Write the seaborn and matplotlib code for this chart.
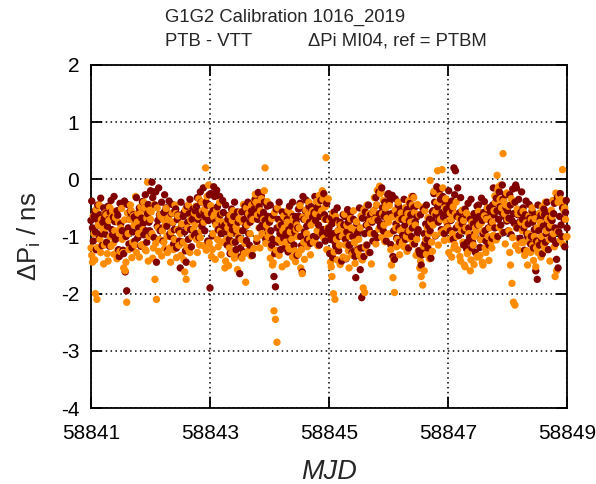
import numpy as np
import pandas as pd
import matplotlib
matplotlib.use("Agg")
import matplotlib.pyplot as plt
import seaborn as sns

# ---- data (quarter-day rows, 0.025 d step) ----
t_start = 58841.0
t_step = 0.025
t_offset2 = 0.0125   # second set of samples, half a step later

vtt_a = [  # dark red series, samples 1
    -0.72, -0.85, -0.65, -0.92, -0.70, -0.80, -0.62, -0.95, -0.75, -0.68,
    -0.60, -0.82, -0.70, -0.58, -0.88, -0.66, -0.74, -1.00, -0.63, -1.35,
    -0.78, -0.90, -1.30, -1.62, -1.95, -0.85, -0.70, -0.60, -0.92, -0.66,
    -0.70, -0.62, -0.85, -0.55, -0.68, -0.78, -0.50, -0.90, -0.60, -0.75,
    -0.20, -0.05, -0.22, -0.45, -1.45, -0.72, -0.62, -0.66, -0.85, -0.58,
    -0.55, -0.82, -0.68, -0.95, -0.60, -0.76, -0.88, -0.52, -0.70, -0.90,
    -1.55, -0.80, -0.65, -0.92, -1.45, -0.75, -0.60, -0.88, -0.70, -0.55,
    -0.55, -0.48, -0.70, -0.62, -0.40, -0.75, -0.58, -0.66, -0.45, -0.72,
    -1.90, -0.60, -0.55, -0.30, -0.22, -0.48, -0.70, -0.62, -0.80, -0.58,
    -0.80, -0.92, -0.70, -1.05, -0.78, -0.88, -0.65, -1.10, -0.95, -0.75,
    -1.65, -1.35, -0.90, -0.70, -0.82, -0.60, -0.95, -0.75, -0.55, -0.68,
    -0.40, -0.55, -0.70, -0.48, -0.62, -0.80, -0.58, -0.72, -0.85, -0.65,
    -0.75, -0.90, -1.05, -1.70, -1.88, -0.85, -0.70, -0.95, -0.80, -0.68,
    -0.78, -0.95, -0.70, -0.88, -1.00, -0.82, -0.65, -0.92, -0.75, -0.85,
    -0.65, -1.00, -1.62, -0.70, -0.55, -0.82, -0.60, -0.75, -0.48, -0.66,
    -0.58, -0.72, -0.50, -0.80, -0.65, -0.55, -0.88, -0.62, -0.70, -0.95,
    -0.85, -1.05, -0.78, -0.95, -1.10, -0.72, -0.90, -1.00, -0.82, -0.98,
    -0.80, -1.05, -0.92, -0.75, -1.15, -0.88, -1.00, -1.25, -1.72, -0.95,
    -0.90, -1.58, -2.07, -1.20, -0.95, -0.80, -0.70, -0.88, -0.62, -0.75,
    -0.55, -0.68, -0.45, -0.72, -0.60, -0.78, -0.50, -0.65, -0.58, -0.70,
    -0.25, -0.32, -0.60, -1.35, -1.40, -0.78, -0.62, -0.85, -0.55, -0.70,
    -0.68, -0.80, -0.58, -0.92, -0.72, -0.62, -0.85, -0.50, -0.75, -0.66,
    -0.88, -1.30, -1.50, -1.25, -0.95, -0.78, -1.05, -0.82, -0.90, -0.70,
    -0.55, -0.40, -0.62, -0.48, -0.70, -0.35, -0.58, -0.66, -0.45, -0.52,
    -0.60, -0.45, -0.72, -0.55, 0.20, 0.15, -0.65, -0.80, -0.58, -0.70,
    -0.75, -0.90, -0.62, -1.10, -0.85, -0.70, -1.20, -0.78, -0.95, -0.68,
    -0.80, -0.65, -1.05, -0.72, -0.58, -0.90, -0.68, -0.85, -0.50, -0.75,
    -0.45, -0.62, -0.40, -0.55, -0.70, -0.48, -0.58, -0.35, -0.65, -0.50,
    -0.55, -0.68, -0.45, -0.72, -0.60, -0.40, -0.15, -0.62, -0.75, -0.58,
    -0.70, -0.85, -0.62, -0.95, -0.78, -0.68, -1.00, -0.75, -0.88, -1.60,
    -1.75, -0.90, -0.70, -1.05, -0.82, -0.62, -0.95, -0.75, -0.85, -0.68,
    -0.72, -0.60, -0.85, -1.40, -1.55, -0.65, -0.80, -0.50, -0.70, -0.58,
    -0.85,
]

vtt_a2 = [  # dark red series, samples 2
    -0.38, -1.08, -0.56, -1.23, -0.45, -1.03, -0.33, -1.16, -0.50, -0.96,
    -1.10, -0.47, -1.17, -0.37, -0.97, -0.30, -1.05, -0.55, -1.23, -0.42,
    -0.50, -1.24, -0.38, -1.00, -0.44, -1.13, -0.55, -1.20, -0.62, -1.08,
    -0.32, -1.02, -0.50, -1.17, -0.39, -0.97, -0.27, -1.10, -0.44, -0.90,
    -0.95, -0.32, -1.02, -0.22, -0.82, -0.15, -0.90, -0.40, -1.08, -0.27,
    -0.50, -1.24, -0.38, -1.00, -0.44, -1.13, -0.55, -1.20, -0.62, -1.08,
    -0.40, -1.10, -0.58, -1.25, -0.47, -1.05, -0.35, -1.18, -0.52, -0.98,
    -0.95, -0.32, -1.02, -0.22, -0.82, -0.15, -0.90, -0.40, -1.08, -0.27,
    -0.25, -0.99, -0.13, -0.75, -0.19, -0.88, -0.30, -0.95, -0.37, -0.83,
    -0.45, -1.15, -0.63, -1.30, -0.52, -1.10, -0.40, -1.23, -0.57, -1.03,
    -1.20, -0.57, -1.27, -0.47, -1.07, -0.40, -1.15, -0.65, -1.33, -0.52,
    -0.35, -1.09, -0.23, -0.85, -0.29, -0.98, -0.40, -1.05, -0.47, -0.93,
    -0.45, -1.15, -0.63, -1.30, -0.52, -1.10, -0.40, -1.23, -0.57, -1.03,
    -1.20, -0.57, -1.27, -0.47, -1.07, -0.40, -1.15, -0.65, -1.33, -0.52,
    -0.42, -1.16, -0.30, -0.92, -0.36, -1.05, -0.47, -1.12, -0.54, -1.00,
    -0.30, -1.00, -0.48, -1.15, -0.37, -0.95, -0.25, -1.08, -0.42, -0.88,
    -1.30, -0.67, -1.37, -0.57, -1.17, -0.50, -1.25, -0.75, -1.43, -0.62,
    -0.65, -1.39, -0.53, -1.15, -0.59, -1.28, -0.70, -1.35, -0.77, -1.23,
    -0.50, -1.20, -0.68, -1.35, -0.57, -1.15, -0.45, -1.28, -0.62, -1.08,
    -0.95, -0.32, -1.02, -0.22, -0.82, -0.15, -0.90, -0.40, -1.08, -0.27,
    -0.40, -1.14, -0.28, -0.90, -0.34, -1.03, -0.45, -1.10, -0.52, -0.98,
    -0.35, -1.05, -0.53, -1.20, -0.42, -1.00, -0.30, -1.13, -0.47, -0.93,
    -1.25, -0.62, -1.32, -0.52, -1.12, -0.45, -1.20, -0.70, -1.38, -0.57,
    -0.25, -0.99, -0.13, -0.75, -0.19, -0.88, -0.30, -0.95, -0.37, -0.83,
    -0.20, -0.90, -0.38, -1.05, -0.27, -0.85, -0.15, -0.98, -0.32, -0.78,
    -1.15, -0.52, -1.22, -0.42, -1.02, -0.35, -1.10, -0.60, -1.28, -0.47,
    -0.45, -1.19, -0.33, -0.95, -0.39, -1.08, -0.50, -1.15, -0.57, -1.03,
    -0.15, -0.85, -0.33, -1.00, -0.22, -0.80, -0.10, -0.93, -0.27, -0.73,
    -0.90, -0.27, -0.97, -0.17, -0.77, -0.10, -0.85, -0.35, -1.03, -0.22,
    -0.50, -1.24, -0.38, -1.00, -0.44, -1.13, -0.55, -1.20, -0.62, -1.08,
    -0.45, -1.15, -0.63, -1.30, -0.52, -1.10, -0.40, -1.23, -0.57, -1.03,
    -1.05, -0.42, -1.12, -0.32, -0.92, -0.25, -1.00, -0.50, -1.18, -0.37,
    -0.72,
]

vtt_b = [  # orange series, samples 1
    -1.20, -1.45, -0.95, -2.00, -2.10, -0.80, -1.05, -0.70, -0.88, -1.15,
    -0.85, -1.30, -0.72, -1.00, -0.65, -1.12, -0.90, -0.60, -1.25, -0.95,
    -0.85, -1.05, -1.55, -1.60, -2.15, -0.95, -0.70, -0.55, -1.10, -0.80,
    -0.30, -0.75, -0.95, -0.60, -1.15, -0.88, -0.50, -1.25, -0.05, -1.00,
    -0.70, -0.95, -1.20, -1.75, -2.10, -0.85, -1.05, -0.65, -0.90, -1.10,
    -0.80, -1.00, -0.68, -1.20, -0.92, -0.75, -1.05, -0.60, -0.88, -1.15,
    -0.95, -0.78, -1.10, -1.62, -1.75, -0.85, -1.25, -0.70, -1.00, -0.88,
    -0.80, -1.05, -0.65, -1.15, -0.90, -0.55, -0.75, 0.20, -0.30, -0.10,
    -1.20, -1.35, -0.95, -0.62, -0.80, -1.05, -0.70, -0.90, -1.10, -0.75,
    -1.55, -1.05, -0.85, -1.20, -0.95, -0.72, -1.10, -1.30, -0.88, -1.00,
    -0.90, -1.05, -0.75, -1.30, -1.80, -0.80, -0.60, -0.95, -0.45, -0.70,
    -0.35, -0.40, -0.62, -0.85, -0.55, -0.95, -0.70, 0.20, -0.80, -1.00,
    -0.95, -1.20, -1.50, -2.30, -2.45, -2.85, -1.05, -0.80, -1.10, -0.90,
    -0.85, -1.10, -0.75, -1.20, -0.92, -1.05, -0.68, -1.25, -0.88, -1.00,
    -0.85, -1.55, -1.65, -1.10, -0.70, -0.95, -0.60, -1.05, -0.80, -0.55,
    -0.75, -0.60, -0.90, -0.40, -0.28, -0.55, -0.35, -0.70, 0.38, -0.85,
    -1.25, -1.45, -1.70, -2.00, -2.10, -1.05, -0.90, -1.15, -0.80, -1.00,
    -0.95, -1.15, -0.80, -1.25, -1.00, -0.85, -1.30, -1.10, -0.90, -1.20,
    -1.05, -0.85, -1.40, -1.90, -1.98, -1.15, -0.80, -0.60, -0.95, -0.72,
    -0.55, -0.70, -0.45, -0.20, -0.12, -0.22, -0.60, -0.80, -0.50, -0.68,
    -0.75, -0.95, -1.50, -1.72, -1.98, -0.85, -1.05, -0.70, -0.90, -1.15,
    -0.85, -0.70, -1.00, -0.60, -0.90, -0.75, -0.45, -0.32, -0.80, -1.05,
    -1.25, -1.55, -1.70, -1.85, -1.60, -1.05, -0.85, -0.95, -0.02, -1.10,
    -0.80, -0.60, -0.55, 0.15, -0.40, -0.70, 0.17, -0.90, -0.50, -0.75,
    -0.85, -1.05, -0.70, -0.95, -1.20, -0.60, -1.00, -0.80, -1.35, -0.90,
    -1.10, -1.50, -0.85, -1.30, -0.95, -1.60, -0.75, -1.15, -1.00, -0.90,
    -1.35, -0.80, -1.05, -1.45, -0.90, -1.20, -0.70, -1.00, -0.85, -1.10,
    -0.75, -0.55, -0.40, 0.07, -0.13, -0.35, -0.50, 0.45, -0.60, -0.45,
    -0.70, -0.90, -1.50, -1.82, -2.15, -2.20, -0.85, -0.60, -1.05, -0.75,
    -0.90, -1.10, -0.80, -1.25, -0.95, -1.05, -0.70, -1.15, -1.00, -1.53,
    -0.85, -1.10, -0.75, -1.00, -0.60, -1.20, -0.90, -0.70, -1.05, -0.80,
    -0.65, -0.95, -1.70, -1.60, -0.40, -0.25, -0.35, 0.17, -0.55, -0.70,
    -1.00,
]

vtt_b2 = [  # orange series, samples 2
    -1.33, -0.64, -1.41, -0.53, -1.19, -0.45, -1.28, -0.73, -1.48, -0.59,
    -0.62, -1.43, -0.49, -1.17, -0.55, -1.31, -0.67, -1.39, -0.75, -1.26,
    -0.51, -1.28, -0.71, -1.45, -0.59, -1.23, -0.45, -1.37, -0.64, -1.15,
    -1.28, -0.59, -1.36, -0.48, -1.14, -0.40, -1.23, -0.68, -1.43, -0.54,
    -0.57, -1.38, -0.44, -1.12, -0.50, -1.26, -0.62, -1.34, -0.70, -1.21,
    -0.51, -1.28, -0.71, -1.45, -0.59, -1.23, -0.45, -1.37, -0.64, -1.15,
    -1.33, -0.64, -1.41, -0.53, -1.19, -0.45, -1.28, -0.73, -1.48, -0.59,
    -0.47, -1.28, -0.34, -1.02, -0.40, -1.16, -0.52, -1.24, -0.60, -1.11,
    -0.46, -1.23, -0.66, -1.40, -0.54, -1.18, -0.40, -1.32, -0.59, -1.10,
    -1.43, -0.74, -1.51, -0.63, -1.29, -0.55, -1.38, -0.83, -1.58, -0.69,
    -0.57, -1.38, -0.44, -1.12, -0.50, -1.26, -0.62, -1.34, -0.70, -1.21,
    -0.26, -1.03, -0.46, -1.20, -0.34, -0.98, -0.20, -1.12, -0.39, -0.90,
    -1.38, -0.69, -1.46, -0.58, -1.24, -0.50, -1.33, -0.78, -1.53, -0.64,
    -0.67, -1.48, -0.54, -1.22, -0.60, -1.36, -0.72, -1.44, -0.80, -1.31,
    -0.46, -1.23, -0.66, -1.40, -0.54, -1.18, -0.40, -1.32, -0.59, -1.10,
    -1.08, -0.39, -1.16, -0.28, -0.94, -0.20, -1.03, -0.48, -1.23, -0.34,
    -0.72, -1.53, -0.59, -1.27, -0.65, -1.41, -0.77, -1.49, -0.85, -1.36,
    -0.61, -1.38, -0.81, -1.55, -0.69, -1.33, -0.55, -1.47, -0.74, -1.25,
    -1.33, -0.64, -1.41, -0.53, -1.19, -0.45, -1.28, -0.73, -1.48, -0.59,
    -0.32, -1.13, -0.19, -0.87, -0.25, -1.01, -0.37, -1.09, -0.45, -0.96,
    -0.46, -1.23, -0.66, -1.40, -0.54, -1.18, -0.40, -1.32, -0.59, -1.10,
    -1.18, -0.49, -1.26, -0.38, -1.04, -0.30, -1.13, -0.58, -1.33, -0.44,
    -0.62, -1.43, -0.49, -1.17, -0.55, -1.31, -0.67, -1.39, -0.75, -1.26,
    -0.21, -0.98, -0.41, -1.15, -0.29, -0.93, -0.15, -1.07, -0.34, -0.85,
    -1.28, -0.59, -1.36, -0.48, -1.14, -0.40, -1.23, -0.68, -1.43, -0.54,
    -0.72, -1.53, -0.59, -1.27, -0.65, -1.41, -0.77, -1.49, -0.85, -1.36,
    -0.56, -1.33, -0.76, -1.50, -0.64, -1.28, -0.50, -1.42, -0.69, -1.20,
    -0.98, -0.29, -1.06, -0.18, -0.84, -0.10, -0.93, -0.38, -1.13, -0.24,
    -0.47, -1.28, -0.34, -1.02, -0.40, -1.16, -0.52, -1.24, -0.60, -1.11,
    -0.56, -1.33, -0.76, -1.50, -0.64, -1.28, -0.50, -1.42, -0.69, -1.20,
    -1.28, -0.59, -1.36, -0.48, -1.14, -0.40, -1.23, -0.68, -1.43, -0.54,
    -0.37, -1.18, -0.24, -0.92, -0.30, -1.06, -0.42, -1.14, -0.50, -1.01,
    -0.95,
]

series_names = ["a", "b"]
series_colors = ["#800000", "#FF8C00"]
x_ticks = [58841, 58843, 58845, 58847, 58849]
y_ticks = [2, 1, 0, -1, -2, -3, -4]


def times(vals, offset=0.0):
    return t_start + offset + t_step * np.arange(len(vals))


df = pd.concat([
    pd.DataFrame({"MJD": times(vtt_a), "dP": vtt_a, "s": series_names[0]}),
    pd.DataFrame({"MJD": times(vtt_a2, t_offset2), "dP": vtt_a2, "s": series_names[0]}),
    pd.DataFrame({"MJD": times(vtt_b), "dP": vtt_b, "s": series_names[1]}),
    pd.DataFrame({"MJD": times(vtt_b2, t_offset2), "dP": vtt_b2, "s": series_names[1]}),
], ignore_index=True)
df = df[df["MJD"] <= 58849.0]
df = df.sort_values("MJD", kind="stable").reset_index(drop=True)

# ---- styling ----
sns.set_theme(style="ticks")
plt.rcParams["font.family"] = ["Liberation Sans", "DejaVu Sans"]
plt.rcParams["mathtext.fontset"] = "custom"
plt.rcParams["mathtext.rm"] = "Liberation Sans"
plt.rcParams["mathtext.it"] = "Liberation Sans:italic"

fig = plt.figure(figsize=(5.96, 4.84), dpi=100)
ax = fig.add_axes([91 / 596, 1 - 408 / 484, (567 - 91) / 596, (408 - 65) / 484])

sns.scatterplot(data=df, x="MJD", y="dP", hue="s", hue_order=series_names,
                palette=series_colors, s=28, linewidth=0, edgecolor="none",
                legend=False, ax=ax, zorder=3, clip_on=False)

ax.set_xlim(58841, 58849)
ax.set_ylim(-4, 2)
ax.set_xticks(x_ticks)
ax.set_xticklabels([str(v) for v in x_ticks])
ax.set_yticks(y_ticks)
ax.set_yticklabels([str(v) for v in y_ticks])
ax.grid(True, color="black", linestyle=(0, (1, 2.2)), linewidth=1.1, zorder=1)
for sp in ax.spines.values():
    sp.set_visible(True)
    sp.set_linewidth(1.3)
    sp.set_color("black")
ax.tick_params(direction="in", length=8, width=1.3, top=True, right=True,
               labelsize=15, colors="black")
ax.tick_params(axis="x", pad=11.5)
ax.tick_params(axis="y", pad=8.5)
ax.set_xlabel("MJD", fontsize=19.5, fontstyle="italic")
ax.xaxis.set_label_coords(0.5, (408 - 459) / 343)
ax.set_ylabel(r"ΔP$_{\mathrm{i}}$ / ns", fontsize=18.5)
ax.yaxis.set_label_coords((43 - 91) / 476, 0.5)

fig.text(165 / 596, 1 - 17 / 484, "G1G2 Calibration 1016_2019", fontsize=13.3,
         ha="left", va="center")
fig.text(165 / 596, 1 - 41 / 484, "PTB - VTT", fontsize=13.3, ha="left", va="center")
fig.text(308 / 596, 1 - 41 / 484, "ΔPi MI04, ref = PTBM", fontsize=13.3,
         ha="left", va="center")

fig.savefig("out.png", dpi=100, facecolor="white")
